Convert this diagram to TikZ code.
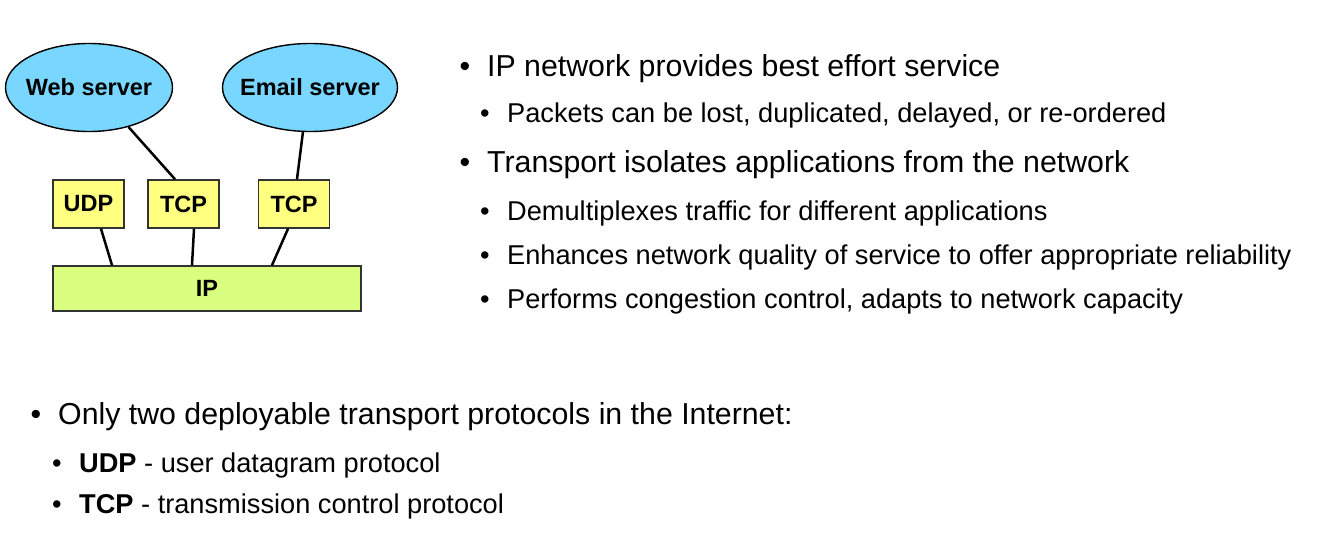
\documentclass[tikz,border=0pt]{standalone}
\usepackage{fontspec}
\setmainfont{Liberation Sans}
\usetikzlibrary{shapes.geometric}
\definecolor{srvblue}{RGB}{120,214,255}
\definecolor{tpyellow}{RGB}{255,255,128}
\definecolor{ipgreen}{RGB}{218,255,128}
\tikzset{
  server/.style={ellipse, draw=black, line width=1.4pt, fill=srvblue, inner sep=0pt,
    minimum width=167pt, minimum height=88pt, font=\fontsize{23.5}{26}\selectfont\bfseries},
  proto/.style={rectangle, draw=black!80, line width=1.6pt, fill=tpyellow, inner sep=0pt,
    minimum width=71pt, minimum height=48pt, font=\fontsize{23.5}{26}\selectfont\bfseries},
  layer/.style={rectangle, draw=black!80, line width=1.6pt, fill=ipgreen, inner sep=0pt,
    minimum width=308pt, minimum height=45pt, font=\fontsize{23.5}{26}\selectfont\bfseries},
  link/.style={line width=2.5pt, black},
  big/.style={anchor=base west, inner sep=0pt, font=\fontsize{30.3}{34}\selectfont},
  small/.style={anchor=base west, inner sep=0pt, font=\fontsize{27.2}{31}\selectfont},
  bigdot/.style={anchor=base, inner sep=0pt, font=\fontsize{30.3}{34}\selectfont},
  smalldot/.style={anchor=base, inner sep=0pt, font=\fontsize{27.2}{31}\selectfont},
}
\begin{document}
\begin{tikzpicture}[x=1pt,y=-1pt]
\useasboundingbox[fill=white] (0,0) rectangle (1317,538);

% protocol stack
\node[server] (web) at (89,87.5) {\makebox[0pt]{Web server}};
\node[server, minimum width=175pt] (mail) at (310,87.5) {\makebox[0pt]{Email server}};
\node[proto] (udp) at (88.5,204) {UDP};
\node[proto] (tcpa) at (183.5,204) {TCP};
\node[proto] (tcpb) at (294,204) {TCP};
\node[layer] (ip) at (207,288.5) {IP};

\draw[link] (web.-45) -- ([xshift=-8.5pt]tcpa.north);
\draw[link] (mail.-99) -- ([xshift=3pt]tcpb.north);
\draw[link] ([xshift=12.5pt]udp.south) -- ([xshift=-95pt]ip.north);
\draw[link] ([xshift=10.5pt]tcpa.south) -- ([xshift=-15pt]ip.north);
\draw[link] ([xshift=-6pt]tcpb.south) -- ([xshift=65pt]ip.north);

% right-hand bullet list
\node[bigdot] (b1) at (465,76) {•};
\node[big] (t1) at (487,76) {IP network provides best effort service};
\node[smalldot] (b2) at (485,122) {•};
\node[small] (t2) at (507,122) {Packets can be lost, duplicated, delayed, or re-ordered};
\node[bigdot] (b3) at (465,172) {•};
\node[big] (t3) at (487,172) {Transport isolates applications from the network};
\node[smalldot] (b4) at (485,220) {•};
\node[small] (t4) at (507,220) {Demultiplexes traffic for different applications};
\node[smalldot] (b5) at (485,264) {•};
\node[small] (t5) at (507,264) {Enhances network quality of service to offer appropriate reliability};
\node[smalldot] (b6) at (485,308) {•};
\node[small] (t6) at (507,308) {Performs congestion control, adapts to network capacity};

% bottom bullet list
\node[bigdot] (b7) at (36,424) {•};
\node[big] (t7) at (58,424) {Only two deployable transport protocols in the Internet:};
\node[smalldot] (b8) at (57,472) {•};
\node[small] (t8) at (79,472) {\textbf{UDP} - user datagram protocol};
\node[smalldot] (b9) at (57,513) {•};
\node[small] (t9) at (79,513) {\textbf{TCP} - transmission control protocol};
\end{tikzpicture}
\end{document}
